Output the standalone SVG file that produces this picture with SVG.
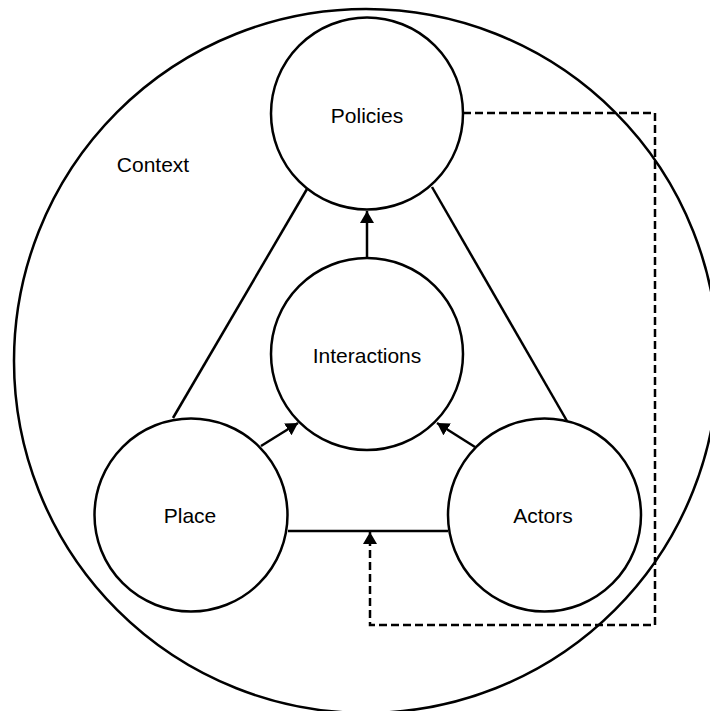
<svg xmlns="http://www.w3.org/2000/svg" width="710" height="711" viewBox="0 0 710 711">
<style>
.ctx{fill:none;stroke:#000;stroke-width:2.5}
.node circle{fill:#fff;stroke:#000;stroke-width:2.5}
.lbl{font-family:"Liberation Sans",Arial,sans-serif;font-size:21px;fill:#000;text-anchor:middle}
.edge{fill:none;stroke:#000;stroke-width:2.5}
.dash{stroke-dasharray:8 4}
</style>
<defs>
<marker id="arr" viewBox="0 0 12 14" refX="12" refY="7" markerWidth="12" markerHeight="14" markerUnits="userSpaceOnUse" orient="auto">
<path d="M0,0 L12,7 L0,14 z" fill="#000"/>
</marker>
</defs>
<rect width="710" height="711" fill="#fff"/>
<g id="context">
<circle class="ctx" cx="366" cy="361" r="352"/>
<text class="lbl" x="153" y="172">Context</text>
</g>
<g id="connectors">
<line class="edge" x1="307" y1="189" x2="173" y2="418"/>
<line class="edge" x1="432" y1="187" x2="567" y2="421"/>
<line class="edge" x1="288" y1="531" x2="448" y2="531"/>
<line class="edge" x1="367" y1="258" x2="367" y2="211" marker-end="url(#arr)"/>
<line class="edge" x1="261" y1="446" x2="298" y2="423" marker-end="url(#arr)"/>
<line class="edge" x1="475" y1="447" x2="437" y2="423" marker-end="url(#arr)"/>
<path class="edge dash" d="M463,113 H655 V625 H370 V532" marker-end="url(#arr)"/>
</g>
<g id="policies" class="node">
<circle cx="367" cy="113.5" r="96"/>
<text class="lbl" x="367" y="122.5">Policies</text>
</g>
<g id="interactions" class="node">
<circle cx="367" cy="354" r="96"/>
<text class="lbl" x="367" y="362.5">Interactions</text>
</g>
<g id="place" class="node">
<circle cx="191" cy="515" r="96.5"/>
<text class="lbl" x="190" y="523">Place</text>
</g>
<g id="actors" class="node">
<circle cx="544.5" cy="515" r="96.5"/>
<text class="lbl" x="543" y="523">Actors</text>
</g>
</svg>
